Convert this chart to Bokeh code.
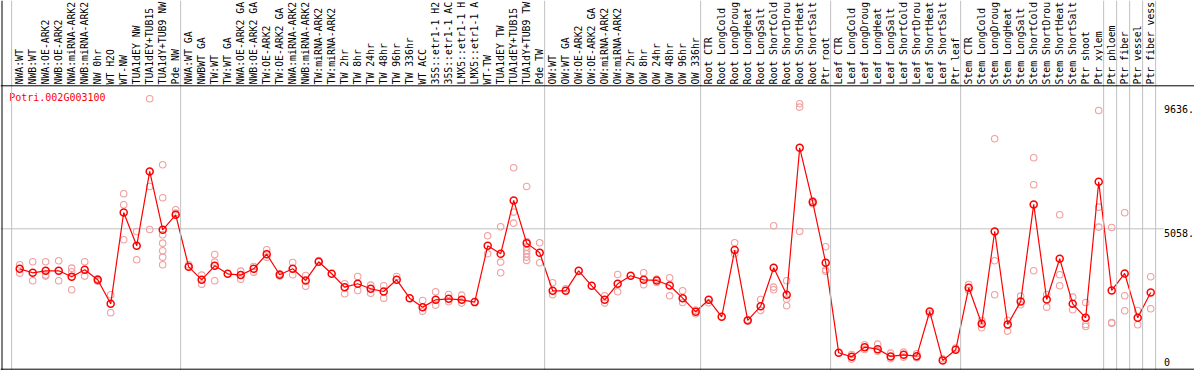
import math
from bokeh.plotting import figure
from bokeh.models import Range1d, Span, ColumnDataSource
from bokeh.core.properties import value
from bokeh.embed import file_html
from bokeh.resources import INLINE

gene = "Potri.002G003100"

samples = [
    "NWA:WT", "NWB:WT", "NWA:OE-ARK2", "NWB:OE-ARK2", "NWA:miRNA-ARK2", "NWB:miRNA-ARK2",
    "NW 0hr", "WT H2O", "WT-NW", "TUA1dEY NW", "TUA1dEY+TUB15", "TUA1dY+TUB9 NW", "Pde NW",
    "NWA:WT GA", "NWBWT GA", "TW:WT", "TW:WT GA", "NWA:OE-ARK2 GA", "NWB:OE-ARK2 GA",
    "TW:OE-ARK2", "TW:OE-ARK2 GA", "NWA:miRNA-ARK2", "NWB:miRNA-ARK2", "TW:miRNA-ARK2",
    "TW:miRNA-ARK2", "TW 2hr", "TW 8hr", "TW 24hr", "TW 48hr", "TW 96hr", "TW 336hr",
    "WT ACC", "35S::etr1-1 H2", "35S::etr1-1 AC", "LMX5::etr1-1 H", "LMX5::etr1-1 A",
    "WT-TW", "TUA1dEY TW", "TUA1dEY+TUB15", "TUA1dY+TUB9 TW", "Pde TW",
    "OW:WT", "OW:WT GA", "OW:OE-ARK2", "OW:OE-ARK2 GA", "OW:miRNA-ARK2", "OW:miRNA-ARK2",
    "OW 2hr", "OW 8hr", "OW 24hr", "OW 48hr", "OW 96hr", "OW 336hr",
    "Root CTR", "Root LongCold", "Root LongDroug", "Root LongHeat", "Root LongSalt",
    "Root ShortCold", "Root ShortDrou", "Root ShortHeat", "Root ShortSalt", "Ptr root",
    "Leaf CTR", "Leaf LongCold", "Leaf LongDroug", "Leaf LongHeat", "Leaf LongSalt",
    "Leaf ShortCold", "Leaf ShortDrou", "Leaf ShortHeat", "Leaf ShortSalt", "Ptr leaf",
    "Stem CTR", "Stem LongCold", "Stem LongDroug", "Stem LongHeat", "Stem LongSalt",
    "Stem ShortCold", "Stem ShortDrou", "Stem ShortHeat", "Stem ShortSalt", "Ptr shoot",
    "Ptr xylem", "Ptr phloem", "Ptr fiber", "Ptr vessel", "Ptr fiber vess",
]

means = [
    3581, 3434, 3507, 3507, 3286, 3544, 3175, 2289, 5661, 4431,
    7175, 5021, 5575, 3655, 3175, 3692, 3397, 3348, 3581, 4123,
    3360, 3581, 3151, 3840, 3397, 2904, 3028, 2843, 2744, 3175,
    2498, 2166, 2437, 2474, 2437, 2351, 4431, 4135, 6104, 4529,
    4172, 2769, 2769, 3507, 2954, 2437, 3028, 3323, 3175, 3151,
    2966, 2498, 1994, 2437, 1809, 4271, 1674, 2203, 3618, 2621,
    8049, 6043, 3803, 480, 332, 689, 615, 345, 406, 357,
    2006, 197, 591, 2880, 1551, 4960, 1526, 2375, 5957, 2449,
    3951, 2289, 1772, 6793, 2781, 3409, 1772, 2708,
]

replicates = [
    [3729, 3421], [3840, 3138], [3840, 3348, 3311], [3877, 3138], [3606, 3471, 2806],
    [3840, 3311], [3212, 3126], [2621, 1957], [6350, 5944, 4652], [4960, 3914],
    [9858, 6621, 5034], [7421, 6203, 4837, 4529, 4246, 4012, 3729], [5760, 5637], [3729],
    [3348, 3015], [4111, 3827, 3138], [], [3495, 3200], [3667, 3458], [4283, 4012],
    [3397, 3311], [3815, 3360], [3335, 2941], [3889], [], [3028, 2658], [3298, 2781],
    [2978, 2683], [2954, 2498], [3298], [], [2412, 2018], [2732, 2240], [2634, 2363],
    [2609, 2314], [], [4800, 4135], [5132, 3827, 3434], [7310, 5674, 5267],
    [6621, 4590, 4381, 4258, 4135, 4012, 3889], [4541, 3803], [3064, 2621], [2843], [], [],
    [2584, 2314], [3372, 2732], [], [3434, 2991], [3200, 3077], [3249, 2584], [2769, 2338],
    [2055, 1920], [2326], [], [4541, 4135], [1698], [2449, 2043], [5169, 2904, 2806],
    [3138, 2461, 2215], [9673, 9550, 4960], [6104, 5981], [4394, 3544, 3495], [],
    [418, 246], [775, 603], [800, 541], [468, 258], [505, 320], [443, 295], [1920], [258],
    [652], [3003, 2781], [1674, 1403], [8381, 3877, 2621], [1674, 1280], [2572, 2252],
    [7680, 6683, 3507], [2634, 2166], [5575, 3360, 2954], [2535, 2068], [2338, 1526, 1452],
    [9427, 5858, 5120], [5107, 1600, 1575], [5649, 2584, 2031], [2043, 1514], [3286, 2104],
]

y_ticks = [9636, 5058, 0]
y_tick_labels = ["9636.", "5058.", "0"]

# indices of the first sample of each group (vertical separators)
group_starts = [0, 13, 41, 53, 63, 73, 84, 85, 86, 87, 88]

# ---------------- layout constants ----------------
W, H = 1194, 370
PX_PER_X = 13.0          # pixels per sample
X0_PX = 19.2             # pixel of sample 0 in canvas
UNITS_PER_PX = 36.92     # value units per pixel
Y0_PX = 365.3            # canvas pixel of value 0

x_start = -X0_PX / PX_PER_X
x_end = (W - X0_PX) / PX_PER_X
y_end = Y0_PX * UNITS_PER_PX
y_start = -(H - Y0_PX) * UNITS_PER_PX


def y_at(px):
    """value at a canvas pixel row"""
    return (Y0_PX - px) * UNITS_PER_PX


def x_at(px):
    return (px - X0_PX) / PX_PER_X


p = figure(width=W, height=H, x_range=Range1d(x_start, x_end), y_range=Range1d(y_start, y_end),
           output_backend="svg", toolbar_location=None, x_axis_type=None, y_axis_type=None,
           min_border=0, outline_line_color=None,
           styles={"position": "absolute", "left": "0px", "top": "0px"})
p.grid.visible = False
p.background_fill_color = "white"
p.border_fill_color = "white"

FONT = value("DejaVu Sans Mono")
GRID = "#c0c0c0"

# vertical group separators
for g in group_starts:
    p.add_layout(Span(location=g - 0.62, dimension="height", line_color=GRID, line_width=1))

# horizontal grid at middle tick
p.segment(x0=[x_start], y0=[y_ticks[1]], x1=[x_at(1163)], y1=[y_ticks[1]], line_color=GRID, line_width=1)

# black frame lines: left edge, top of data area, bottom
p.add_layout(Span(location=x_at(1.5), dimension="height", line_color="black", line_width=1))
p.add_layout(Span(location=y_at(85.3), dimension="width", line_color="black", line_width=1))
p.add_layout(Span(location=y_at(368.7), dimension="width", line_color="black", line_width=1))

# replicates
rx, ry = [], []
for i, reps in enumerate(replicates):
    for r in reps:
        rx.append(i)
        ry.append(r)
p.scatter(rx, ry, marker="circle", size=6.5, fill_color=None, line_color="#f0a0a0", line_width=1.1)

# mean line + markers
xs = list(range(len(means)))
p.line(xs, means, line_color="#ff0000", line_width=1.2)
p.scatter(xs, means, marker="circle", size=7, fill_color=None, line_color="#ff0000", line_width=1.5)

# sample labels (rotated) above the data area
lab_src = ColumnDataSource(dict(x=[i - 0.05 for i in range(len(samples))],
                                y=[y_at(84.0)] * len(samples), text=samples))
p.text(x="x", y="y", text="text", source=lab_src, angle=math.pi / 2, text_align="left",
       text_baseline="middle", text_font=FONT, text_font_size="9.8px", text_color="black")

# gene title
p.text(x=[x_at(8.7)], y=[y_at(97.0)], text=[gene], text_align="left", text_baseline="middle",
       text_font=FONT, text_font_size="10px", text_color="#ff0000")

# right-side value labels
label_dy = [4.0, 4.0, -3.6]
ly = [t - d * UNITS_PER_PX for t, d in zip(y_ticks, label_dy)]
p.text(x=[x_at(1163.5)] * 3, y=ly, text=y_tick_labels, text_align="left", text_baseline="middle",
       text_font=FONT, text_font_size="10px", text_color="black")

open("out.html", "w").write(file_html(p, INLINE))
